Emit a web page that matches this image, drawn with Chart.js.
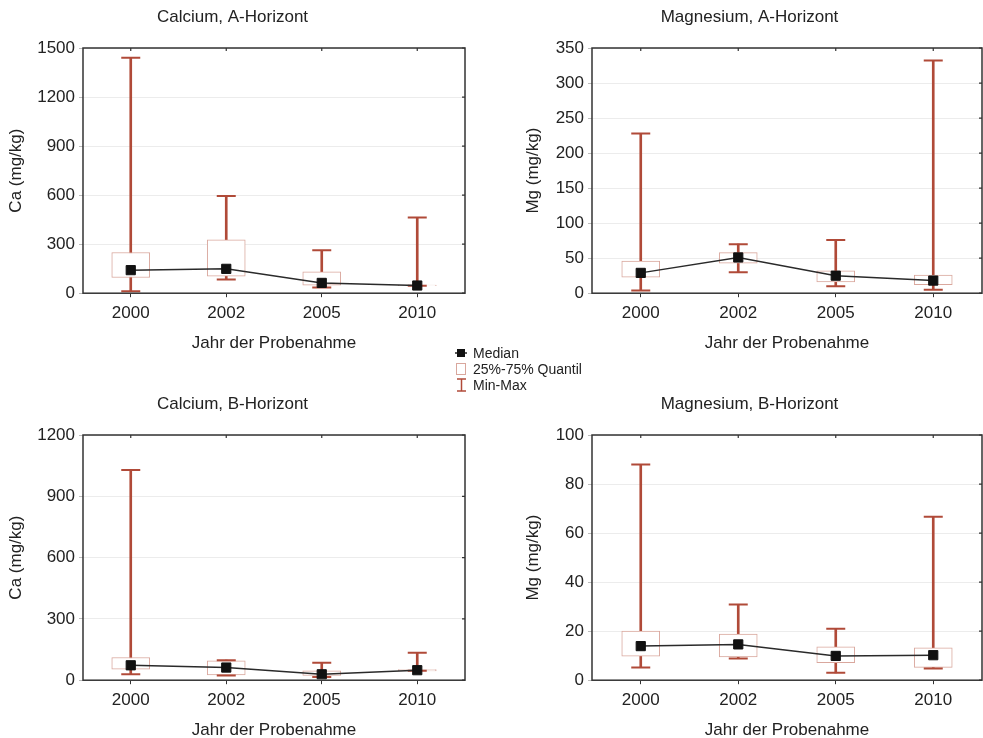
<!DOCTYPE html>
<html>
<head>
<meta charset="utf-8">
<script src="https://cdn.jsdelivr.net/npm/chart.js@4"></script>
<style>
  html, body { margin: 0; padding: 0; background: #fff; overflow: hidden; }
  body { width: 983px; height: 738px; position: relative; font-family: 'Liberation Sans', Arial, sans-serif; }
  canvas { position: absolute; }
  #legend { position: absolute; left: 454px; top: 345px; font-size: 14px; color: #222; line-height: 16px; }
  #legend div { display: flex; align-items: center; height: 16px; white-space: nowrap; }
  #legend svg { width: 16px; height: 16px; margin-right: 3px; }
</style>
</head>
<body>
<canvas id="c1" width="468" height="354" style="left:0px;top:0px"></canvas>
<canvas id="c2" width="466" height="354" style="left:517px;top:0px"></canvas>
<canvas id="c3" width="468" height="354" style="left:0px;top:387px"></canvas>
<canvas id="c4" width="466" height="354" style="left:517px;top:387px"></canvas>
<div id="legend">
  <div><svg viewBox="0 0 16 16"><line x1="1" y1="8" x2="13" y2="8" stroke="#222" stroke-width="1.5"/><rect x="3" y="4" width="8" height="8" fill="#111"/></svg>Median</div>
  <div><svg viewBox="0 0 16 16"><rect x="2.5" y="2.5" width="9" height="11" fill="#fff" stroke="#d9a79d" stroke-width="1"/></svg>25%-75% Quantil</div>
  <div><svg viewBox="0 0 16 16"><line x1="3" y1="2" x2="12" y2="2" stroke="#b04a38" stroke-width="1.5"/><line x1="7.5" y1="2" x2="7.5" y2="14" stroke="#b04a38" stroke-width="1.5"/><line x1="3" y1="14" x2="12" y2="14" stroke="#b04a38" stroke-width="1.5"/></svg>Min-Max</div>
</div>
<script>
// ---- data ----
const years = ['2000', '2002', '2005', '2010'];

// Calcium, A-Horizont
const caA_min = [12, 84, 35, 46];
const caA_q1  = [96, 104, 49, 46];
const caA_med = [141, 149, 63, 47];
const caA_q3  = [249, 326, 130, 50];
const caA_max = [1440, 594, 263, 463];

// Magnesium, A-Horizont
const mgA_min = [4, 30, 10, 5];
const mgA_q1  = [23, 43, 16, 12];
const mgA_med = [29, 51, 25, 18];
const mgA_q3  = [46, 58, 32, 26];
const mgA_max = [228, 70, 76, 332];

// Calcium, B-Horizont
const caB_min = [29, 23, 16, 46];
const caB_q1  = [54, 26, 23, 46];
const caB_med = [73, 62, 29, 49];
const caB_q3  = [111, 95, 46, 52];
const caB_max = [1029, 98, 85, 134];

// Magnesium, B-Horizont
const mgB_min = [5.2, 8.8, 3, 4.8];
const mgB_q1  = [9.8, 9.5, 7.1, 5.2];
const mgB_med = [13.9, 14.6, 9.9, 10.2];
const mgB_q3  = [20, 18.8, 13.6, 13.2];
const mgB_max = [88, 30.9, 21, 66.7];

// ---- styles ----
const WHISKER = '#b04a38';
const BOXLINE = '#d9a79d';
const FRAME = '#333';
const TEXT = '#222';

Chart.defaults.font.family = "'Liberation Sans', Arial, sans-serif";
Chart.defaults.font.size = 17;
Chart.defaults.color = TEXT;

// frame around the plot area plus small inward ticks on top and right sides
const framePlugin = {
  id: 'frame',
  afterDraw(chart) {
    const { ctx, chartArea: a, scales } = chart;
    ctx.save();
    ctx.strokeStyle = FRAME;
    ctx.lineWidth = 1.5;
    ctx.strokeRect(a.left, a.top, a.right - a.left, a.bottom - a.top);
    ctx.lineWidth = 1.2;
    ctx.beginPath();
    scales.x.ticks.forEach((t, i) => {
      const px = scales.x.getPixelForTick(i);
      ctx.moveTo(px, a.top);
      ctx.lineTo(px, a.top + 3);
    });
    scales.y.ticks.forEach((t, i) => {
      const py = scales.y.getPixelForTick(i);
      ctx.moveTo(a.right, py);
      ctx.lineTo(a.right - 3, py);
    });
    ctx.stroke();
    ctx.restore();
  }
};

function makePanel(id, title, yTitle, yMax, yStep, axisWidth, padRight, mn, q1, med, q3, mx) {
  const ctx = document.getElementById(id);
  return new Chart(ctx, {
    type: 'bar',
    plugins: [framePlugin],
    data: {
      labels: years,
      datasets: [
        {
          type: 'line', data: med, order: 0,
          borderColor: '#2a2a2a', borderWidth: 1.5, tension: 0,
          pointStyle: 'rect', pointRadius: 6.5,
          pointBackgroundColor: '#111', pointBorderColor: '#111', pointBorderWidth: 1
        },
        {
          type: 'line', data: mn, order: 1, showLine: false,
          pointStyle: 'line', pointRadius: 9.5,
          pointBorderColor: WHISKER, pointBorderWidth: 2, borderColor: WHISKER
        },
        {
          type: 'line', data: mx, order: 1, showLine: false,
          pointStyle: 'line', pointRadius: 9.5,
          pointBorderColor: WHISKER, pointBorderWidth: 2, borderColor: WHISKER
        },
        {
          type: 'bar', data: q1.map((v, i) => [v, q3[i]]), order: 2,
          grouped: false, barThickness: 38,
          backgroundColor: '#ffffff', borderColor: BOXLINE, borderWidth: 1, borderSkipped: false
        },
        {
          type: 'bar', data: mn.map((v, i) => [v, mx[i]]), order: 3,
          grouped: false, barThickness: 2,
          backgroundColor: WHISKER, borderWidth: 0
        }
      ]
    },
    options: {
      responsive: false,
      animation: false,
      events: [],
      layout: { autoPadding: false, padding: { left: 0, right: padRight, top: 0, bottom: 0 } },
      plugins: {
        legend: { display: false },
        tooltip: { enabled: false },
        title: {
          display: true, text: title, color: TEXT,
          font: { size: 17, weight: 'normal' },
          padding: { top: 7, bottom: 20.6 }
        }
      },
      scales: {
        x: {
          type: 'category', position: 'bottom', offset: true,
          grid: { display: true, drawOnChartArea: false, offset: false, tickLength: 4, tickColor: FRAME, color: FRAME },
          border: { display: false },
          ticks: { padding: 6, color: TEXT, font: { size: 17 } },
          title: { display: true, text: 'Jahr der Probenahme', color: TEXT, font: { size: 17 }, padding: { top: 4, bottom: 0 } }
        },
        y: {
          type: 'linear', position: 'left', min: 0, max: yMax,
          ticks: { stepSize: yStep, padding: 4, color: TEXT, font: { size: 17 }, format: { useGrouping: false } },
          grid: { color: '#ececec', lineWidth: 1, tickLength: 4, tickColor: '#bbb' },
          border: { display: false },
          title: { display: true, text: yTitle, color: TEXT, font: { size: 17 }, padding: { top: 6, bottom: 0 } },
          afterFit: (scale) => { scale.width = axisWidth; }
        }
      }
    }
  });
}

makePanel('c1', 'Calcium, A-Horizont', 'Ca (mg/kg)', 1500, 300, 83, 3, caA_min, caA_q1, caA_med, caA_q3, caA_max);
makePanel('c2', 'Magnesium, A-Horizont', 'Mg (mg/kg)', 350, 50, 75, 1, mgA_min, mgA_q1, mgA_med, mgA_q3, mgA_max);
makePanel('c3', 'Calcium, B-Horizont', 'Ca (mg/kg)', 1200, 300, 83, 3, caB_min, caB_q1, caB_med, caB_q3, caB_max);
makePanel('c4', 'Magnesium, B-Horizont', 'Mg (mg/kg)', 100, 20, 75, 1, mgB_min, mgB_q1, mgB_med, mgB_q3, mgB_max);
</script>
</body>
</html>
